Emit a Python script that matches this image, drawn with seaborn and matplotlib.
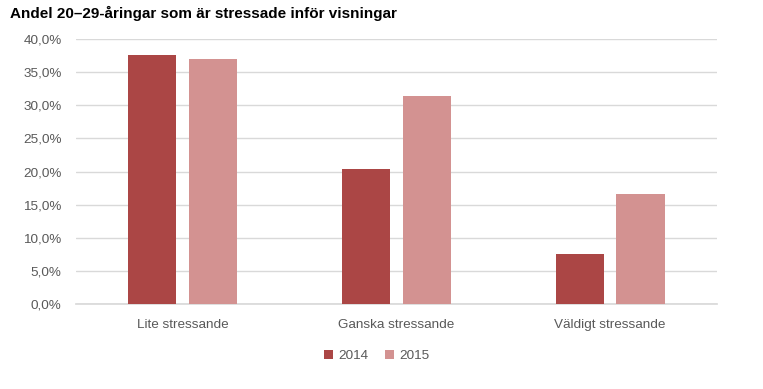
import pandas as pd
import numpy as np
import matplotlib.pyplot as plt
from matplotlib.ticker import FuncFormatter, MultipleLocator
import seaborn as sns

categories = ["Lite stressande", "Ganska stressande", "Väldigt stressande"]
years = ["2014", "2015"]
values_2014 = [37.6, 20.4, 7.5]
values_2015 = [37.0, 31.4, 16.6]
colors = ["#AB4645", "#D39291"]

df = pd.DataFrame({
    "kategori": categories * 2,
    "år": [years[0]] * 3 + [years[1]] * 3,
    "andel": values_2014 + values_2015,
})

sns.set_theme(style="white")
plt.rcParams["font.family"] = ["Liberation Sans", "DejaVu Sans"]

fig = plt.figure(figsize=(7.63, 3.89), dpi=100)
ax = fig.add_axes([75.5 / 763, 85 / 389, (717 - 75.5) / 763, (304 - 39) / 389])

sns.barplot(data=df, x="kategori", y="andel", hue="år", palette=colors,
            width=0.57, gap=0.21, saturation=1, linewidth=0, ax=ax, zorder=3)

ax.set_ylim(0, 40)
ax.yaxis.set_major_locator(MultipleLocator(5))
ax.yaxis.set_major_formatter(FuncFormatter(lambda v, p: f"{v:.1f}%".replace(".", ",")))
ax.grid(axis="y", color="#D9D9D9", linewidth=1, zorder=0)
ax.set_axisbelow(True)
for s in ["top", "right", "left"]:
    ax.spines[s].set_visible(False)
ax.spines["bottom"].set_color("#D9D9D9")
ax.tick_params(axis="both", length=0, labelsize=9.7, colors="#595959")
ax.tick_params(axis="x", pad=11)
ax.tick_params(axis="y", pad=10)
ax.set_xlabel("")
ax.set_ylabel("")

fig.text(10 / 763, 1 - 13 / 389, "Andel 20–29-åringar som är stressade inför visningar",
         fontsize=11, fontweight="bold", color="black", va="center", ha="left")

handles, labels = ax.get_legend_handles_labels()
ax.legend_.remove()
fig.legend(handles, labels, loc="center", bbox_to_anchor=(0.494, 1 - 356 / 389),
           ncol=2, frameon=False, handlelength=0.7, handleheight=0.7,
           handletextpad=0.4, columnspacing=1.2,
           prop={"size": 9.7}, labelcolor="#595959")

fig.savefig("out.png", dpi=100)
